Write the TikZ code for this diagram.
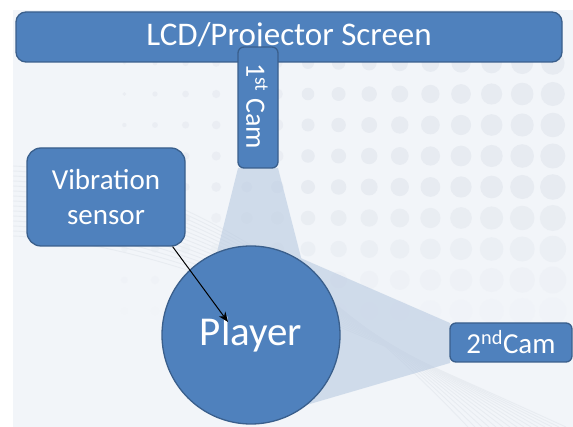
\documentclass[tikz,border=0pt]{standalone}
\usepackage{fontspec}
\setmainfont{Carlito}
\usetikzlibrary{arrows.meta}

\definecolor{boxfill}{HTML}{4F81BD}
\definecolor{boxline}{HTML}{3A5F8C}
\definecolor{slide}{HTML}{F2F5F9}
\definecolor{dotc}{HTML}{E7EBF1}
\definecolor{swoosh}{HTML}{E8ECF1}
\definecolor{beam}{HTML}{B4C7DF}

\tikzset{
  bluebox/.style={draw=boxline, line width=1.3pt, fill=boxfill, text=white,
    inner sep=0pt, align=center},
  screenbar/.style={bluebox, rounded corners=10pt, minimum width=546pt,
    minimum height=50pt, font=\fontsize{33}{36}\selectfont},
  camtall/.style={bluebox, rounded corners=6pt, minimum width=40pt,
    minimum height=121pt},
  camwide/.style={bluebox, rounded corners=6pt, minimum width=122pt,
    minimum height=39pt, font=\fontsize{29}{32}\selectfont},
  sensorbox/.style={bluebox, rounded corners=14pt, minimum width=158pt,
    minimum height=98pt, font=\fontsize{29}{35}\selectfont},
  playerdisc/.style={bluebox, circle, minimum size=178pt,
    font=\fontsize{41}{44}\selectfont},
  signal/.style={-{Stealth[length=10pt,width=8pt]}, line width=1pt, black},
  viewcone/.style={fill=beam, opacity=0.55},
}

\begin{document}
\begin{tikzpicture}[x=1pt,y=-1pt]
\useasboundingbox (0,0) rectangle (573,427);

% slide background
\fill[white] (0,0) rectangle (573,427);
\fill[slide] (13,10) rectangle (573,427);

% faint dot grid, dots growing to the right and fading downwards
\foreach \i in {-6,...,8}{
  \foreach \j in {0,...,8}{
    \pgfmathsetmacro\xx{308+30.6*(\i)}
    \pgfmathsetmacro\yy{63+31*(\j)}
    \pgfmathsetmacro\rr{max(1.2,6+0.72*(\i)+0.25*(\j))}
    \pgfmathsetmacro\op{(\j<5 ? 1 : 1-0.22*(\j-4))*(\i<0 ? 0.7 : 1)}
    \fill[dotc, opacity=\op] (\xx,\yy) circle[radius=\rr];
  }
}

% faint sweeping lines
\foreach \k in {0,...,14}{
  \draw[swoosh, line width=0.9pt]
    (13,166+5*\k) .. controls (150,172+5*\k) and (300,250+4*\k) .. (468+7*\k,427);
}

% camera fields of view
\fill[viewcone]
  (238,168) -- (278,168) -- (312,300) -- (205,300) -- cycle
  (450,323) -- (450,363) -- (262,418) -- (250,335) -- (296,256) -- cycle;

% screen and cameras
\node[screenbar] (screen) at (289,37) {\raisebox{1pt}{LCD/Projector Screen}};
\node[camtall] (cam1) at (258,107.5) {};
\node[rotate=-90, text=white, font=\fontsize{28}{30}\selectfont]
  (cam1label) at (257,106) {1\textsuperscript{st} Cam};
\node[camwide] (cam2) at (511,342.5) {2\textsuperscript{nd}Cam};

% player and sensor
\node[playerdisc] (player) at (251,335) {Player};
\node[sensorbox] (vib) at (106,197) {Vibration\\sensor};

\coordinate (hit) at (228,322);
\draw[signal] ([xshift=-13pt]vib.south east) -- (hit);
\end{tikzpicture}
\end{document}
